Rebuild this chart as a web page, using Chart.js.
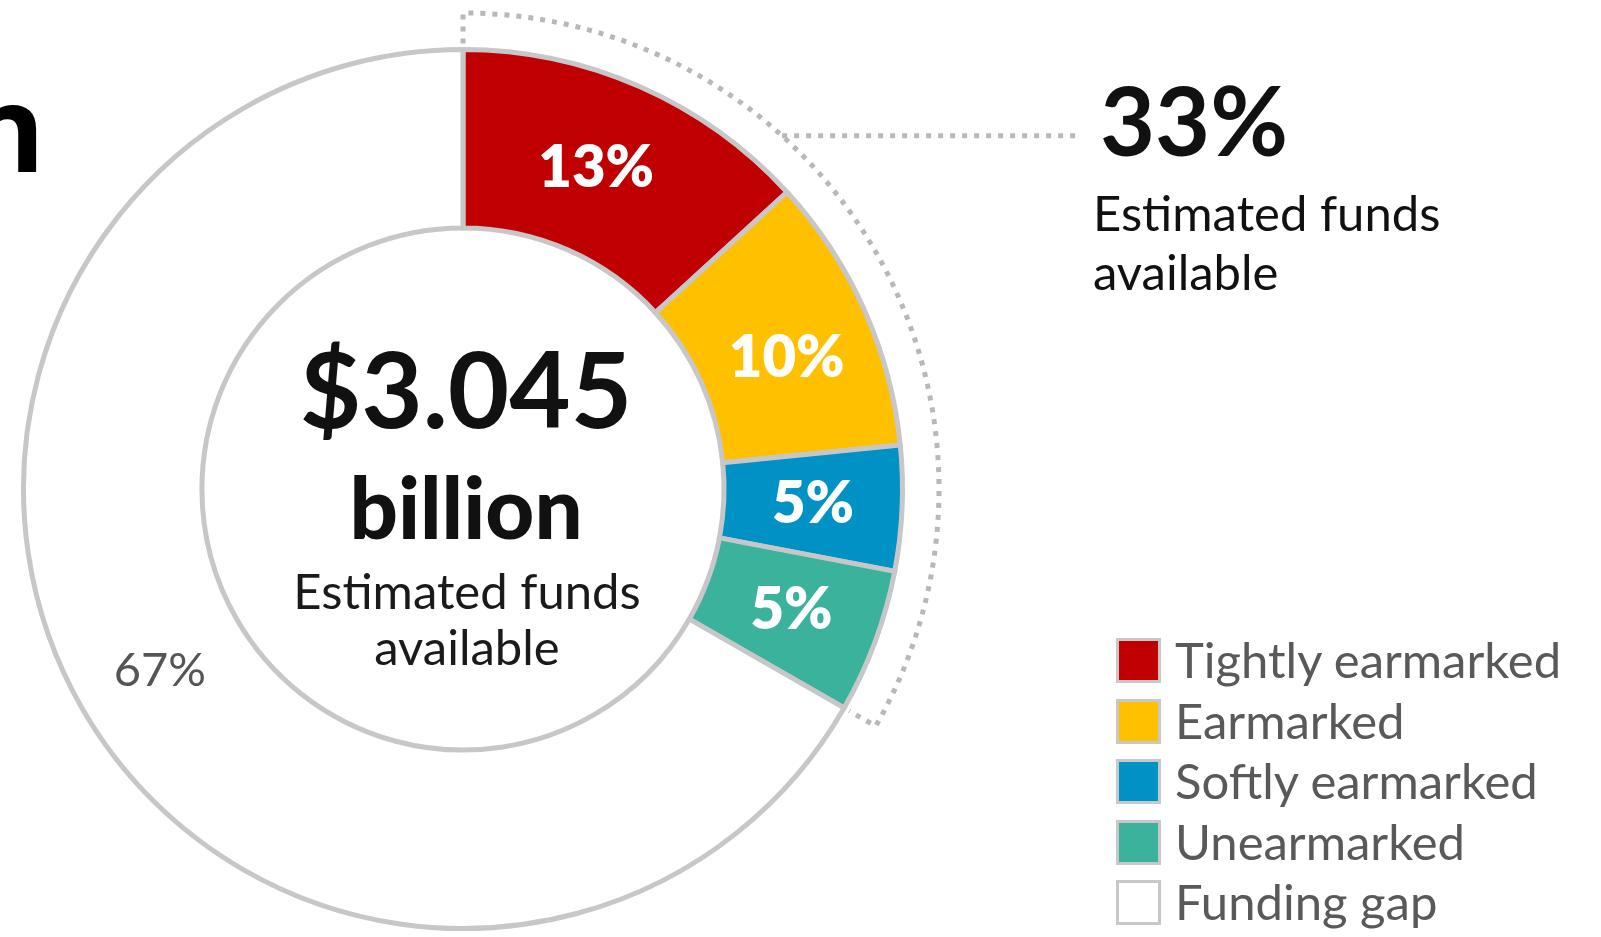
<!DOCTYPE html>
<html>
<head>
<meta charset="utf-8">
<script src="https://cdn.jsdelivr.net/npm/chart.js@4.4.1/dist/chart.umd.min.js"></script>
<style>
html,body{margin:0;padding:0;background:#fff;}
#wrap{position:relative;width:1601px;height:937px;overflow:hidden;background:#fff;}
#c{position:absolute;left:0;top:0;width:1601px;height:937px;}
.t{position:absolute;white-space:nowrap;line-height:1.2;font-family:Lato,"Noto Sans",sans-serif;color:#111;}
.ctr{width:600px;text-align:center;}
#title{font-family:"Open Sans",sans-serif;font-weight:700;font-size:120px;line-height:1.362;color:#000;width:120px;text-align:right;}
.lg-box{position:absolute;width:39px;height:39px;border:3px solid #c8c8c8;}
.lg-txt{position:absolute;white-space:nowrap;font-family:Lato,sans-serif;font-size:49px;line-height:1.2;color:#595959;}
</style>
</head>
<body>
<div id="wrap">
  <canvas id="c" width="1601" height="937"></canvas>
  <div class="t" id="title" style="left:-75px;top:44px;">n</div>
  <div class="t ctr" id="amount" style="left:166px;top:324px;font-size:106px;font-weight:700;"></div>
  <div class="t ctr" id="unit" style="left:166px;top:455px;font-size:85px;font-weight:900;"></div>
  <div class="t ctr" id="sub1" style="left:167px;top:561px;font-size:49px;color:#1a1a1a;"></div>
  <div class="t ctr" id="sub2" style="left:167px;top:617px;font-size:49px;color:#1a1a1a;"></div>
  <div class="t" id="pct" style="left:1100px;top:62px;font-size:95px;font-weight:700;"></div>
  <div class="t" id="rsub1" style="left:1093px;top:183px;font-size:49px;"></div>
  <div class="t" id="rsub2" style="left:1093px;top:242px;font-size:49px;"></div>
  <div id="legend"></div>
</div>
<script>
// ---- data ----
const categories = ['Tightly earmarked', 'Earmarked', 'Softly earmarked', 'Unearmarked', 'Funding gap'];
const shares = [13.2, 10.2, 4.6, 5.3, 66.7];
const shareLabels = ['13%', '10%', '5%', '5%', '67%'];
const colors = ['#C00000', '#FFC000', '#0092C4', '#3BB39C', '#FFFFFF'];
const centerAmount = '$3.045';
const centerUnit = 'billion';
const subtitleLines = ['Estimated funds', 'available'];
const availableShare = '33%';

// ---- texts ----
document.getElementById('amount').textContent = centerAmount;
document.getElementById('unit').textContent = centerUnit;
document.getElementById('sub1').textContent = subtitleLines[0];
document.getElementById('sub2').textContent = subtitleLines[1];
document.getElementById('pct').textContent = availableShare;
document.getElementById('rsub1').textContent = subtitleLines[0];
document.getElementById('rsub2').textContent = subtitleLines[1];

// ---- legend ----
const lg = document.getElementById('legend');
categories.forEach((name, i) => {
  const top = 638 + i * 60.6;
  const box = document.createElement('div');
  box.className = 'lg-box';
  box.style.left = '1116px';
  box.style.top = top + 'px';
  box.style.background = colors[i];
  lg.appendChild(box);
  const txt = document.createElement('div');
  txt.className = 'lg-txt';
  txt.style.left = '1175px';
  txt.style.top = (top - 8) + 'px';
  txt.textContent = name;
  lg.appendChild(txt);
});

// ---- plugins ----
const bracketPlugin = {
  id: 'bracket',
  afterDatasetsDraw(chart) {
    const ctx = chart.ctx;
    const meta = chart.getDatasetMeta(0);
    const first = meta.data[0];
    const last = meta.data[3];
    const cx = first.x, cy = first.y;
    const rOut = first.outerRadius;
    const R = rOut + 36.5;
    const a0 = first.startAngle, a1 = last.endAngle;
    ctx.save();
    ctx.strokeStyle = '#b8b8b8';
    ctx.lineWidth = 5;
    ctx.setLineDash([5, 7]);
    ctx.beginPath();
    ctx.moveTo(cx + (rOut + 6) * Math.cos(a0), cy + (rOut + 6) * Math.sin(a0));
    ctx.lineTo(cx + R * Math.cos(a0), cy + R * Math.sin(a0));
    ctx.arc(cx, cy, R, a0, a1);
    ctx.lineTo(cx + (rOut + 6) * Math.cos(a1), cy + (rOut + 6) * Math.sin(a1));
    ctx.stroke();
    const am = -47.9 * Math.PI / 180;
    const sx = cx + R * Math.cos(am), sy = cy + R * Math.sin(am);
    ctx.beginPath();
    ctx.moveTo(sx, sy);
    ctx.lineTo(1077, sy);
    ctx.stroke();
    ctx.restore();
  }
};

// small label nudges (style only)
const labelNudge = [[-8, 0], [4, 12], [0, 0], [0, 0], [0, 6]];

const labelPlugin = {
  id: 'arcLabels',
  afterDatasetsDraw(chart) {
    const ctx = chart.ctx;
    const meta = chart.getDatasetMeta(0);
    meta.data.forEach((arc, i) => {
      const p = arc.tooltipPosition();
      const gap = i === shares.length - 1;
      ctx.save();
      ctx.font = gap ? '400 47px Lato' : '800 58px Lato';
      ctx.fillStyle = gap ? '#555555' : '#ffffff';
      ctx.textAlign = 'center';
      ctx.textBaseline = 'middle';
      ctx.fillText(shareLabels[i], p.x + labelNudge[i][0], p.y + labelNudge[i][1]);
      ctx.restore();
    });
  }
};

new Chart(document.getElementById('c'), {
  type: 'doughnut',
  data: {
    labels: categories,
    datasets: [{
      data: shares,
      backgroundColor: colors,
      borderColor: '#c7c7c9',
      borderWidth: 5,
      hoverOffset: 0,
      borderJoinStyle: 'miter'
    }]
  },
  options: {
    responsive: false,
    animation: false,
    cutout: '59.4%',
    layout: { padding: { left: 21, right: 696, top: 47, bottom: 6 } },
    plugins: {
      legend: { display: false },
      tooltip: { enabled: false }
    }
  },
  plugins: [bracketPlugin, labelPlugin]
});
</script>
</body>
</html>
